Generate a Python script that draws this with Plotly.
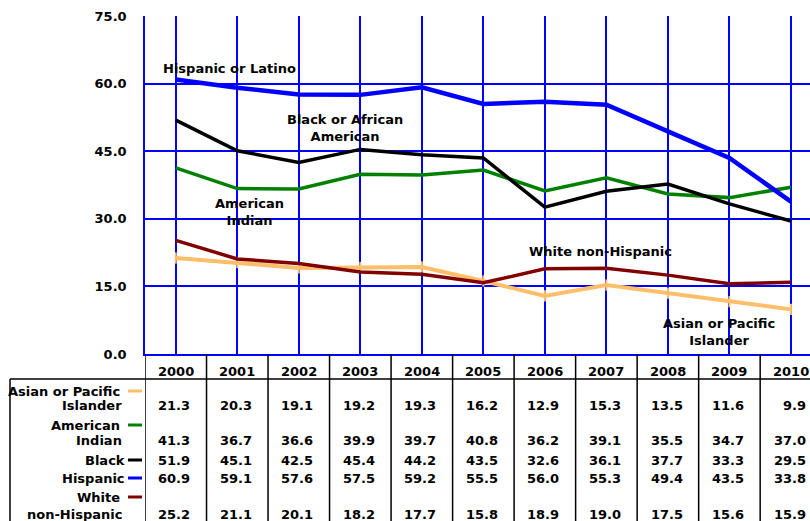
import plotly.graph_objects as go

years = ["2000", "2001", "2002", "2003", "2004", "2005", "2006", "2007", "2008", "2009", "2010"]

asian = [21.3, 20.3, 19.1, 19.2, 19.3, 16.2, 12.9, 15.3, 13.5, 11.6, 9.9]
am_indian = [41.3, 36.7, 36.6, 39.9, 39.7, 40.8, 36.2, 39.1, 35.5, 34.7, 37.0]
black = [51.9, 45.1, 42.5, 45.4, 44.2, 43.5, 32.6, 36.1, 37.7, 33.3, 29.5]
hispanic = [60.9, 59.1, 57.6, 57.5, 59.2, 55.5, 56.0, 55.3, 49.4, 43.5, 33.8]
white = [25.2, 21.1, 20.1, 18.2, 17.7, 15.8, 18.9, 19.0, 17.5, 15.6, 15.9]

# (row label lines, values, colour, width)
rows = [
    (["Asian or Pacific", "Islander"], asian, "#FFBE6A", 4),
    (["American", "Indian"], am_indian, "#008000", 3.5),
    (["Black"], black, "#000000", 3.5),
    (["Hispanic"], hispanic, "#0000FF", 4.5),
    (["White", "non-Hispanic"], white, "#800000", 3.5),
]

W, H = 810, 521
L, T, B = 145, 16, 354          # plot area pixels
FONT = dict(family="DejaVu Sans", size=13, color="#000000", weight="bold")
BLUE = "#0000FF"


def py(p):
    # pixel row -> paper y
    return (B - p) / (B - T)


def px(p):
    return (p - L) / (W - L)


def label(text, x, y, xref="paper", xanchor="center"):
    return dict(text=text, xref=xref, yref="paper", x=x, y=y, xanchor=xanchor,
                yanchor="middle", showarrow=False, font=FONT, align="center")


x = list(range(len(years)))
fig = go.Figure()
for labels, vals, color, width in rows:
    fig.add_trace(go.Scatter(
        x=x, y=vals, mode="lines+markers" if labels[0].startswith("Asian") else "lines",
        line=dict(color=color, width=width),
        marker=dict(symbol="line-ns", size=8, line=dict(color=color, width=2)),
        showlegend=False, hoverinfo="skip",
    ))

ann = []
shapes = []

# in-plot labels
for text, ax, ay in [
    ("Hispanic or Latino", 229, 68),
    ("Black or African<br>American", 345, 128),
    ("American<br>Indian", 249, 212),
    ("White non-Hispanic", 600, 251),
    ("Asian or Pacific<br>Islander", 719, 332),
]:
    ann.append(label(text, px(ax), py(ay)))

# data table
shapes.append(dict(type="line", xref="paper", yref="paper", x0=px(10), x1=1.05,
                   y0=py(379), y1=py(379), line=dict(color="black", width=1.5)))
shapes.append(dict(type="line", xref="paper", yref="paper", x0=px(10), x1=px(10),
                   y0=py(379), y1=py(530), line=dict(color="black", width=1.5)))
for i in range(len(years) + 1):
    shapes.append(dict(type="line", xref="x", yref="paper", x0=i - 0.5, x1=i - 0.5,
                       y0=py(354), y1=py(530), line=dict(color="black", width=1.5)))

for i, yr in enumerate(years):
    ann.append(label(yr, i, py(371), xref="x"))

row_y = [(391, 405), (425, 440), (460, 460), (478, 478), (497, 514)]
for (labels, vals, color, width), (y1, y2) in zip(rows, row_y):
    if len(labels) == 2:
        ann.append(label(labels[0], px(122), py(y1), xanchor="right"))
        ann.append(label(labels[1], px(124), py(y2), xanchor="right"))
    else:
        ann.append(label(labels[0], px(127), py(y1), xanchor="right"))
    shapes.append(dict(type="line", xref="paper", yref="paper", x0=px(128), x1=px(142),
                       y0=py(y1), y1=py(y1), line=dict(color=color, width=3)))
    for i, v in enumerate(vals):
        ann.append(label(f"{v:.1f}", i + 0.27, py(y2), xref="x", xanchor="right"))

fig.update_layout(
    width=W, height=H,
    margin=dict(l=L, r=0, t=T, b=H - B, pad=0),
    plot_bgcolor="white", paper_bgcolor="white",
    annotations=ann, shapes=shapes,
    xaxis=dict(range=[-0.5, 10.31], tickvals=x, showticklabels=False,
               showgrid=True, gridcolor=BLUE, gridwidth=1.5, zeroline=False,
               showline=True, linecolor=BLUE, linewidth=1.5, fixedrange=True),
    yaxis=dict(range=[0, 75], dtick=15, tickformat=".1f", showgrid=True,
               gridcolor=BLUE, gridwidth=1.5, zeroline=True, zerolinecolor=BLUE,
               zerolinewidth=1.5, showline=True, linecolor=BLUE, linewidth=1.5,
               ticklabelstandoff=14, tickfont=FONT, fixedrange=True),
)

# page body has a default 8px margin; drop it so the chart fills the window
fig.write_html("out.html", config={"displayModeBar": False},
               post_script="document.body.style.margin='0';")
